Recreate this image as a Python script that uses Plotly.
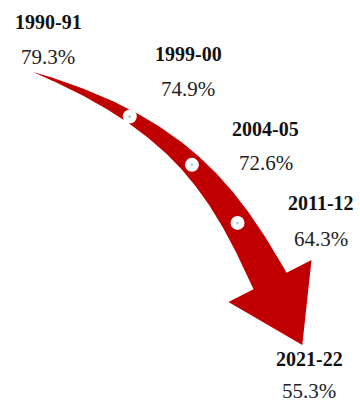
import numpy as np
import plotly.graph_objects as go

# Share of the indicator by year
years = ["1990-91", "1999-00", "2004-05", "2011-12", "2021-22"]
shares = [79.3, 74.9, 72.6, 64.3, 55.3]

# Label anchor points (canvas pixels, y measured downward)
label_x = [48, 188, 265.5, 321, 309]
label_year_y = [21.5, 54, 129, 203, 359]
label_pct_y = [56.5, 89, 162.5, 238.5, 390.5]

# Parameters along the arrow where the intermediate years are marked
dot_t = [0.276, 0.531, 0.786]

W, H = 360, 403
RED = "#c00000"
FONT = "Liberation Serif, Times New Roman, serif"

# Arrow centreline: cubic Bezier
P = np.array([[33, 72], [173, 122], [220.5, 183], [270, 281]], dtype=float)


def bezier(t):
    t = np.atleast_1d(t)[:, None]
    return ((1 - t) ** 3 * P[0] + 3 * (1 - t) ** 2 * t * P[1]
            + 3 * (1 - t) * t ** 2 * P[2] + t ** 3 * P[3])


def bezier_d(t):
    t = np.atleast_1d(t)[:, None]
    return 3 * ((1 - t) ** 2 * (P[1] - P[0]) + 2 * (1 - t) * t * (P[2] - P[1])
                + t ** 2 * (P[3] - P[2]))


ts = np.linspace(0, 1, 200)
c = bezier(ts)
d = bezier_d(ts)
tan = d / np.linalg.norm(d, axis=1)[:, None]
nrm = np.column_stack([tan[:, 1], -tan[:, 0]])  # points to the outer (upper) side
half_w = 0.5 * 37 * ts ** 0.85

upper = c + nrm * half_w[:, None]
lower = c - nrm * half_w[:, None]

# Arrow head
end, t_end, n_end = c[-1], tan[-1], nrm[-1]
head_half, head_len = 46.5, 71.6
head_r = end + n_end * head_half
head_l = end - n_end * head_half
tip = end + t_end * head_len

poly = np.vstack([upper, head_r, tip, head_l, lower[::-1], upper[:1]])

fig = go.Figure()
fig.add_trace(go.Scatter(
    x=poly[:, 0], y=poly[:, 1], mode="lines", fill="toself",
    fillcolor=RED, line=dict(width=0, color=RED), hoverinfo="skip",
))

dots = bezier(np.array(dot_t))
fig.add_trace(go.Scatter(
    x=dots[:, 0], y=dots[:, 1], mode="markers",
    marker=dict(size=14, color="white", line=dict(width=0)),
    hovertext=[f"{y}: {s}%" for y, s in zip(years[1:4], shares[1:4])],
    hoverinfo="text",
))
fig.add_trace(go.Scatter(
    x=dots[:, 0], y=dots[:, 1], mode="markers",
    marker=dict(size=3, color="#a9d3e6", line=dict(width=0)),
    hoverinfo="skip",
))

for yr, s, x, yy, py in zip(years, shares, label_x, label_year_y, label_pct_y):
    fig.add_annotation(x=x, y=yy, text=f"<b>{yr}</b>", showarrow=False,
                       xanchor="center", yanchor="middle",
                       font=dict(family=FONT, size=20, color="#111111"))
    fig.add_annotation(x=x, y=py, text=f"{s:.1f}%", showarrow=False,
                       xanchor="center", yanchor="middle",
                       font=dict(family=FONT, size=21, color="#222222"))

fig.update_layout(
    width=W, height=H, margin=dict(l=0, r=0, t=0, b=0),
    paper_bgcolor="white", plot_bgcolor="white", showlegend=False,
    xaxis=dict(range=[0, W], visible=False, fixedrange=True),
    yaxis=dict(range=[H, 0], visible=False, fixedrange=True),
)

fig.write_html("out.html", config={"displayModeBar": False})
